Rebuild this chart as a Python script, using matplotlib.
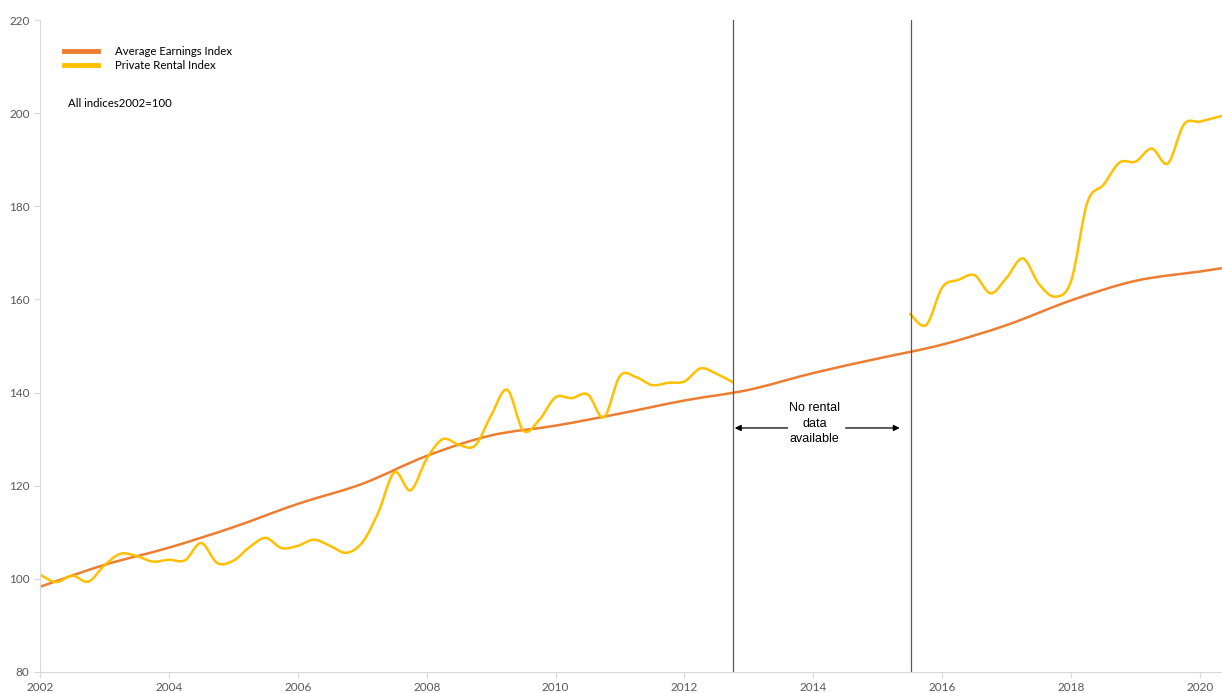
import numpy as np
import matplotlib
matplotlib.use("Agg")
import matplotlib.pyplot as plt
from matplotlib.path import Path
from matplotlib.patches import PathPatch
from matplotlib.lines import Line2D

# Average Earnings Index (yearly readings)
earn_x = [2002, 2003, 2004, 2005, 2006, 2007, 2008, 2009, 2010, 2011, 2012,
          2013, 2014, 2015, 2016, 2017, 2018, 2019, 2020, 2020.33]
earn_y = [98.3, 103.0, 106.7, 111.1, 116.1, 120.4, 126.4, 130.8, 132.9, 135.5, 138.3,
          140.6, 144.2, 147.3, 150.3, 154.5, 159.8, 164.0, 166.0, 166.7]

# Private Rental Index, first stretch (quarterly)
rent1_x = [2002.0, 2002.25, 2002.5, 2002.75, 2003.0, 2003.25, 2003.5, 2003.75,
           2004.0, 2004.25, 2004.5, 2004.75, 2005.0, 2005.25, 2005.5, 2005.75,
           2006.0, 2006.25, 2006.5, 2006.75, 2007.0, 2007.25, 2007.5, 2007.75,
           2008.0, 2008.25, 2008.5, 2008.75, 2009.0, 2009.25, 2009.5, 2009.75,
           2010.0, 2010.25, 2010.5, 2010.75, 2011.0, 2011.25, 2011.5, 2011.75,
           2012.0, 2012.25, 2012.5, 2012.75]
rent1_y = [100.9, 99.3, 100.7, 99.4, 102.9, 105.4, 104.9, 103.7,
           104.1, 104.0, 107.7, 103.4, 103.9, 106.8, 108.8, 106.6,
           107.1, 108.4, 107.1, 105.6, 107.8, 114.3, 122.9, 119.0,
           125.8, 130.0, 128.8, 128.6, 135.1, 140.6, 131.8, 134.2,
           139.0, 138.8, 139.6, 134.7, 143.6, 143.3, 141.6, 142.1,
           142.4, 145.2, 144.0, 142.2]

# Private Rental Index, second stretch
rent2_x = [2015.5, 2015.75, 2016.0, 2016.25, 2016.5, 2016.75, 2017.0, 2017.25,
           2017.5, 2017.75, 2018.0, 2018.25, 2018.5, 2018.75, 2019.0, 2019.25,
           2019.5, 2019.75, 2020.0, 2020.33]
rent2_y = [156.9, 154.5, 162.6, 164.2, 165.2, 161.3, 164.7, 168.8,
           163.3, 160.6, 164.0, 180.8, 184.6, 189.4, 189.6, 192.4,
           189.2, 197.6, 198.2, 199.4]

gap_start, gap_end = 2012.76, 2015.51

ORANGE = "#ED7D31"
YELLOW = "#FFC000"


def smooth_path(xs, ys):
    # Excel-style smoothed line: cubic Bezier segments through every point
    p = np.column_stack([xs, ys]).astype(float)
    n = len(p)
    verts = [p[0]]
    codes = [Path.MOVETO]
    for i in range(n - 1):
        p0 = p[i - 1] if i > 0 else p[i]
        p3 = p[i + 2] if i + 2 < n else p[i + 1]
        c1 = p[i] + (p[i + 1] - p0) / 6
        c2 = p[i + 1] - (p3 - p[i]) / 6
        verts += [c1, c2, p[i + 1]]
        codes += [Path.CURVE4] * 3
    return Path(verts, codes)


fig = plt.figure(figsize=(12.22, 6.93), dpi=100)
ax = fig.add_axes([40 / 1222, 21 / 693, 1182 / 1222, 652 / 693])

for xs, ys, c in [(earn_x, earn_y, ORANGE), (rent1_x, rent1_y, YELLOW), (rent2_x, rent2_y, YELLOW)]:
    ax.add_patch(PathPatch(smooth_path(xs, ys), fill=False, edgecolor=c, lw=1.8,
                           transform=ax.transData, capstyle="round"))

ax.axvline(gap_start, color="#595959", lw=0.9)
ax.axvline(gap_end, color="#595959", lw=0.9)

ax.set_xlim(2002, 2020.34)
ax.set_ylim(80, 220)
ax.set_xticks(range(2002, 2021, 2))
ax.set_yticks(range(80, 221, 20))

for s in ["top", "right"]:
    ax.spines[s].set_visible(False)
for s in ["left", "bottom"]:
    ax.spines[s].set_color("#D9D9D9")
ax.tick_params(colors="#D9D9D9", labelcolor="#595959", labelsize=8.5, length=4)
for lab in ax.get_xticklabels() + ax.get_yticklabels():
    lab.set_family("Lato")

# arrows + note in the gap
arrow = dict(arrowstyle="-|>", color="black", lw=0.9, mutation_scale=9, shrinkA=0, shrinkB=0)
ax.annotate("", xy=(gap_start + 0.02, 132.4), xytext=(2013.6, 132.4), arrowprops=arrow)
ax.annotate("", xy=(2015.34, 132.4), xytext=(2014.5, 132.4), arrowprops=arrow)
ax.text(2014.02, 133.3, "No rental\ndata\navailable", ha="center", va="center",
        fontsize=9, family="Liberation Sans", linespacing=1.4)

handles = [Line2D([], [], color=ORANGE, lw=3.5), Line2D([], [], color=YELLOW, lw=3.5)]
ax.legend(handles, ["Average Earnings Index", "Private Rental Index"],
          loc="upper left", bbox_to_anchor=(0.0205, 0.96), frameon=False,
          prop={"family": "Lato", "size": 8.2}, handlelength=3.0, handletextpad=1.45,
          labelspacing=0.25, borderpad=0, borderaxespad=0)
ax.text(0.024, 0.872, "All indices2002=100", transform=ax.transAxes,
        fontsize=8.2, family="Lato", va="center")

fig.savefig("out.png", dpi=100)
